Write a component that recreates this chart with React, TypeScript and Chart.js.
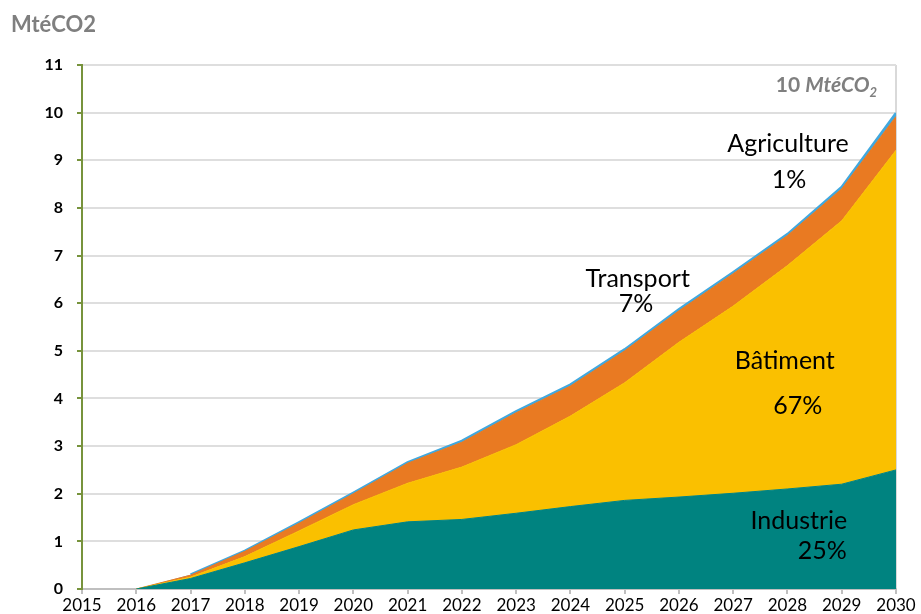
import React, { useEffect, useRef } from "react";
import { Chart, registerables } from "chart.js";

Chart.register(...registerables);

const years = [2016, 2017, 2018, 2019, 2020, 2021, 2022, 2023, 2024, 2025, 2026, 2027, 2028, 2029, 2030];
const industrie = [0, 0.22, 0.55, 0.89, 1.24, 1.41, 1.46, 1.59, 1.73, 1.86, 1.93, 2.01, 2.1, 2.2, 2.5];
const batiment = [0, 0.03, 0.13, 0.33, 0.53, 0.81, 1.1, 1.44, 1.9, 2.47, 3.25, 3.93, 4.69, 5.53, 6.71];
const transport = [0, 0.04, 0.11, 0.16, 0.23, 0.42, 0.52, 0.67, 0.63, 0.67, 0.66, 0.68, 0.63, 0.67, 0.71];
const agriculture = [0, 0.01, 0.01, 0.02, 0.02, 0.02, 0.03, 0.03, 0.03, 0.03, 0.03, 0.03, 0.03, 0.04, 0.07];
const xTicks = [2015, 2016, 2017, 2018, 2019, 2020, 2021, 2022, 2023, 2024, 2025, 2026, 2027, 2028, 2029, 2030];

const annotations = [
  { text: "Agriculture", x: 2028.01, y: 9.17 },
  { text: "1%", x: 2028.03, y: 8.42 },
  { text: "Transport", x: 2025.24, y: 6.34 },
  { text: "7%", x: 2025.21, y: 5.81 },
  { text: "Bâtiment", x: 2027.95, y: 4.62 },
  { text: "67%", x: 2028.19, y: 3.67 },
  { text: "Industrie", x: 2028.21, y: 1.26 },
  { text: "25%", x: 2028.64, y: 0.63 },
];

const FONT = "Lato, 'Open Sans', sans-serif";

const textPlugin = {
  id: "texts",
  afterDatasetsDraw(chart: any) {
    const ctx = chart.ctx;
    const xs = chart.scales.x;
    const ys = chart.scales.y;
    ctx.save();
    // title
    ctx.fillStyle = "#7F7F7F";
    ctx.font = `bold 22px ${FONT}`;
    ctx.textAlign = "left";
    ctx.textBaseline = "alphabetic";
    ctx.fillText("MtéCO2", 11, 32);
    // annotations
    ctx.fillStyle = "#000";
    ctx.font = `25px ${FONT}`;
    ctx.textAlign = "center";
    for (const a of annotations) {
      ctx.fillText(a.text, xs.getPixelForValue(a.x), ys.getPixelForValue(a.y));
    }
    // 10 MtéCO2 label, right aligned
    const rx = xs.getPixelForValue(2029.65);
    const by = ys.getPixelForValue(10.43);
    ctx.fillStyle = "#7F7F7F";
    const f1 = `bold 21px ${FONT}`;
    const f2 = `italic bold 21px ${FONT}`;
    const f3 = `italic bold 13px ${FONT}`;
    ctx.textAlign = "left";
    ctx.font = f3;
    const w3 = ctx.measureText("2").width;
    ctx.font = f2;
    const w2 = ctx.measureText("MtéCO").width;
    ctx.font = f1;
    const w1 = ctx.measureText("10 ").width;
    let x0 = rx - w3 - w2 - w1;
    ctx.fillText("10 ", x0, by);
    x0 += w1;
    ctx.font = f2;
    ctx.fillText("MtéCO", x0, by);
    x0 += w2;
    ctx.font = f3;
    ctx.fillText("2", x0, by + 5);
    ctx.restore();
  },
};

export default function App() {
  const ref = useRef<HTMLCanvasElement>(null);
  useEffect(() => {
    if (!ref.current) return;
    const mk = (label: string, data: number[], color: string, border: string, bw: number) => ({
      label,
      data: years.map((y, i) => ({ x: y, y: data[i] })),
      backgroundColor: color,
      borderColor: border,
      borderWidth: bw,
      pointRadius: 0,
      tension: 0,
    });
    const blue = "#41A8DE";
    const chart = new Chart(ref.current, {
      type: "line",
      data: {
        datasets: [
          { ...mk("Industrie", industrie, "#008380", "#008380", 1), fill: "origin" },
          { ...mk("Bâtiment", batiment, "#FAC000", "#FAC000", 1), fill: "-1" },
          { ...mk("Transport", transport, "#E97A22", "#E97A22", 1), fill: "-1" },
          {
            ...mk("Agriculture", agriculture, blue, blue, 2.5),
            fill: "-1",
            segment: { borderColor: (c: any) => (c.p0DataIndex === 0 ? "rgba(0,0,0,0)" : blue) },
          },
        ],
      },
      options: {
        animation: false,
        responsive: false,
        maintainAspectRatio: false,
        layout: { padding: { top: 65, right: 25, left: 0, bottom: 0 } },
        plugins: { legend: { display: false }, tooltip: { enabled: false }, title: { display: false } },
        scales: {
          x: {
            type: "linear",
            min: 2015,
            max: 2030,
            afterBuildTicks: (s: any) => {
              s.ticks = xTicks.map((v) => ({ value: v }));
            },
            afterFit: (s: any) => {
              s.height = 25;
            },
            ticks: {
              callback: (v: any) => String(v),
              color: "#000",
              font: { family: FONT, size: 17 },
              padding: 1,
              maxRotation: 0,
              autoSkip: false,
            },
            grid: {
              drawOnChartArea: true,
              color: (c: any) => (c.tick && c.tick.value === 2030 ? "#D9D9D9" : "rgba(0,0,0,0)"),
              lineWidth: 2,
              tickColor: "#BFBFBF",
              tickLength: 5,
            },
            border: { color: "#BFBFBF", width: 2 },
          },
          y: {
            stacked: true,
            min: 0,
            max: 11,
            afterFit: (s: any) => {
              s.width = 82;
            },
            ticks: {
              stepSize: 1,
              color: "#000",
              font: { family: FONT, size: 16, weight: "bold" },
              padding: 14,
            },
            grid: {
              color: "#DEDEDE",
              lineWidth: 2,
              tickColor: "#77933C",
              tickLength: 5,
            },
            border: { color: "#77933C", width: 2 },
          },
        },
      },
      plugins: [textPlugin],
    } as any);
    return () => chart.destroy();
  }, []);
  return (
    <div style={{ position: "absolute", left: 0, top: 0, width: 921, height: 614, background: "#fff" }}>
      <canvas ref={ref} width={921} height={614} style={{ display: "block", width: 921, height: 614 }} />
    </div>
  );
}
